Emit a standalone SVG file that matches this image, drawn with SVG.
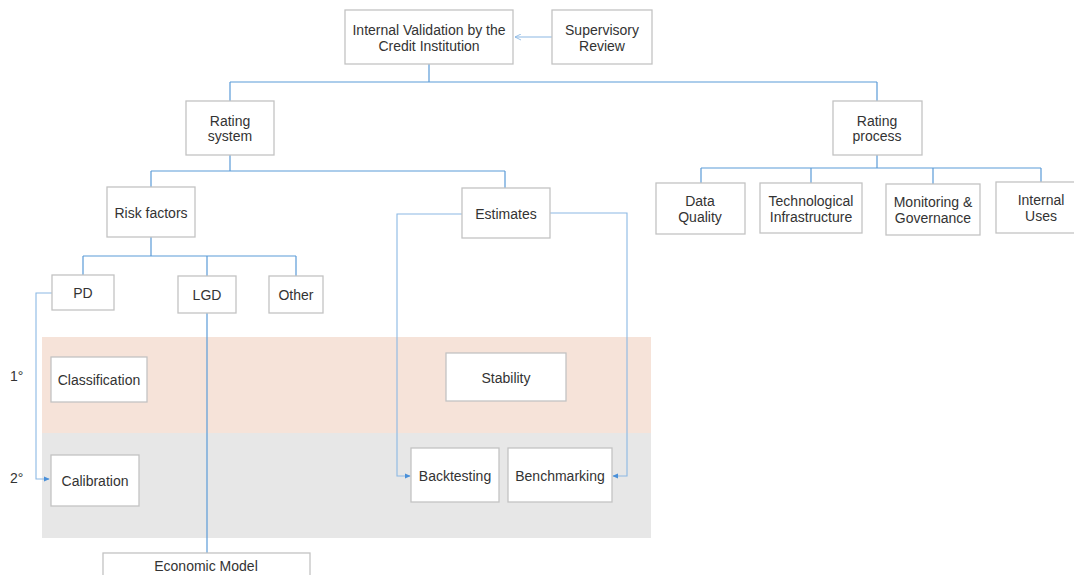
<svg xmlns="http://www.w3.org/2000/svg" width="1074" height="575" viewBox="0 0 1074 575">
  <style>
    .box { fill: #ffffff; stroke: #c3c3c3; stroke-width: 1.3; }
    .lbl { font-family: "Liberation Sans", Arial, sans-serif; font-size: 14px; fill: #333333; text-anchor: middle; }
    .side { font-family: "Liberation Sans", Arial, sans-serif; font-size: 14px; fill: #333333; }
    .wire { fill: none; stroke: #5b9bd8; stroke-width: 1.2; }
    .thin { fill: none; stroke: #8bb8e4; stroke-width: 1.1; }
  </style>
  <defs>
    <marker id="tri" viewBox="0 0 8 8" refX="7" refY="4" markerWidth="6" markerHeight="6" orient="auto" markerUnits="userSpaceOnUse">
      <path d="M0,0.5 L8,4 L0,7.5 Z" fill="#4a90d9"/>
    </marker>
    <marker id="open" viewBox="0 0 8 8" refX="7" refY="4" markerWidth="7" markerHeight="7" orient="auto" markerUnits="userSpaceOnUse">
      <path d="M0,0.5 L7,4 L0,7.5" fill="none" stroke="#8bb8e4" stroke-width="1"/>
    </marker>
  </defs>

  <!-- stage bands -->
  <rect x="42" y="337" width="609" height="96" fill="#f6e3d9"/>
  <rect x="42" y="433" width="609" height="105" fill="#e7e7e7"/>
  <text class="side" x="10" y="381">1°</text>
  <text class="side" x="10" y="483">2°</text>

  <g id="connectors">
    <!-- supervisory review feeds internal validation -->
    <path class="thin" d="M552,37 H515" marker-end="url(#open)"/>
    <!-- top split -->
    <path class="wire" d="M429,64 V82 M230,82 H877 M230,82 V101 M877,82 V101"/>
    <!-- rating system split -->
    <path class="wire" d="M230,155 V171 M151,171 H505 M151,171 V187 M505,171 V188"/>
    <!-- rating process split -->
    <path class="wire" d="M877,155 V168 M701,168 H1041 M701,168 V183 M811,168 V183 M933,168 V184 M1041,168 V182"/>
    <!-- risk factors split -->
    <path class="wire" d="M151,237 V256 M83,256 H296 M83,256 V275 M207,256 V276 M296,256 V276"/>
    <!-- PD to calibration -->
    <path class="thin" d="M52,293 H36 V479 H49" marker-end="url(#tri)"/>
    <!-- LGD to economic model -->
    <path class="wire" d="M207,313 V553"/>
    <!-- estimates to backtesting and benchmarking -->
    <path class="thin" d="M462,214 H397 V476 H410" marker-end="url(#tri)"/>
    <path class="thin" d="M550,213 H627 V476 H613" marker-end="url(#tri)"/>
  </g>

  <g id="internal-validation">
    <rect class="box" x="345" y="10" width="168" height="54"/>
    <text class="lbl" x="429" y="35">Internal Validation by the</text>
    <text class="lbl" x="429" y="51">Credit Institution</text>
  </g>
  <g id="supervisory-review">
    <rect class="box" x="552" y="10" width="100" height="54"/>
    <text class="lbl" x="602" y="35">Supervisory</text>
    <text class="lbl" x="602" y="51">Review</text>
  </g>
  <g id="rating-system">
    <rect class="box" x="186" y="101" width="88" height="54"/>
    <text class="lbl" x="230" y="126">Rating</text>
    <text class="lbl" x="230" y="141">system</text>
  </g>
  <g id="rating-process">
    <rect class="box" x="833" y="101" width="89" height="54"/>
    <text class="lbl" x="877" y="126">Rating</text>
    <text class="lbl" x="877" y="141">process</text>
  </g>
  <g id="data-quality">
    <rect class="box" x="656" y="183" width="89" height="51"/>
    <text class="lbl" x="700" y="206">Data</text>
    <text class="lbl" x="700" y="222">Quality</text>
  </g>
  <g id="tech-infrastructure">
    <rect class="box" x="760" y="183" width="102" height="50"/>
    <text class="lbl" x="811" y="206">Technological</text>
    <text class="lbl" x="811" y="222">Infrastructure</text>
  </g>
  <g id="monitoring-governance">
    <rect class="box" x="886" y="184" width="94" height="51"/>
    <text class="lbl" x="933" y="207">Monitoring &amp;</text>
    <text class="lbl" x="933" y="223">Governance</text>
  </g>
  <g id="internal-uses">
    <rect class="box" x="996" y="182" width="90" height="51"/>
    <text class="lbl" x="1041" y="205">Internal</text>
    <text class="lbl" x="1041" y="221">Uses</text>
  </g>
  <g id="risk-factors">
    <rect class="box" x="107" y="187" width="88" height="50"/>
    <text class="lbl" x="151" y="218">Risk factors</text>
  </g>
  <g id="estimates">
    <rect class="box" x="462" y="188" width="88" height="50"/>
    <text class="lbl" x="506" y="219">Estimates</text>
  </g>
  <g id="pd">
    <rect class="box" x="52" y="275" width="62" height="35"/>
    <text class="lbl" x="83" y="298">PD</text>
  </g>
  <g id="lgd">
    <rect class="box" x="178" y="276" width="58" height="37"/>
    <text class="lbl" x="207" y="300">LGD</text>
  </g>
  <g id="other">
    <rect class="box" x="269" y="276" width="54" height="37"/>
    <text class="lbl" x="296" y="300">Other</text>
  </g>
  <g id="classification">
    <rect class="box" x="51" y="357" width="96" height="45"/>
    <text class="lbl" x="99" y="385">Classification</text>
  </g>
  <g id="stability">
    <rect class="box" x="446" y="353" width="120" height="48"/>
    <text class="lbl" x="506" y="383">Stability</text>
  </g>
  <g id="calibration">
    <rect class="box" x="51" y="455" width="88" height="51"/>
    <text class="lbl" x="95" y="486">Calibration</text>
  </g>
  <g id="backtesting">
    <rect class="box" x="411" y="448" width="88" height="54"/>
    <text class="lbl" x="455" y="481">Backtesting</text>
  </g>
  <g id="benchmarking">
    <rect class="box" x="508" y="448" width="104" height="54"/>
    <text class="lbl" x="560" y="481">Benchmarking</text>
  </g>
  <g id="economic-model">
    <rect class="box" x="103" y="553" width="207" height="30"/>
    <text class="lbl" x="206" y="571">Economic Model</text>
  </g>
</svg>
